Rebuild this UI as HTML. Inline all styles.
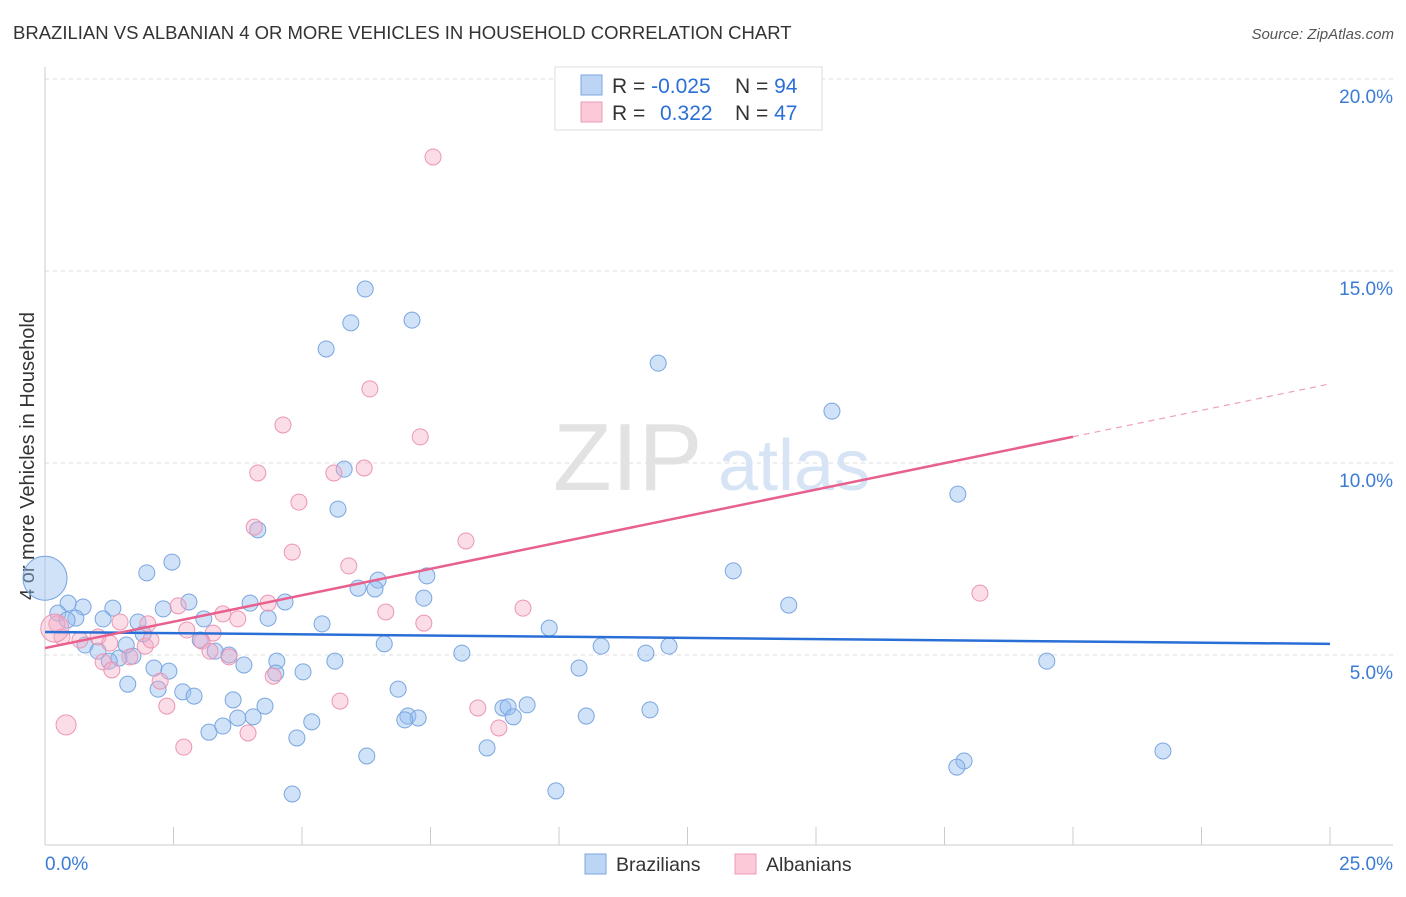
<!DOCTYPE html>
<html><head><meta charset="utf-8"><style>
body{margin:0;background:#fff;font-family:"Liberation Sans",sans-serif;}
svg text{font-family:"Liberation Sans",sans-serif;}
</style></head><body>
<svg id="chart" width="1406" height="892" viewBox="0 0 1406 892">
<text x="13" y="39" font-size="18.5" fill="#333">BRAZILIAN VS ALBANIAN 4 OR MORE VEHICLES IN HOUSEHOLD CORRELATION CHART</text>
<text x="1394" y="39" font-size="15" fill="#555" font-style="italic" text-anchor="end">Source: ZipAtlas.com</text>
<text transform="translate(34,456) rotate(-90)" font-size="20" fill="#333" text-anchor="middle">4 or more Vehicles in Household</text>
<g id="grid"></g>
<g id="ticks"></g>
<text x="553" y="490" font-size="96" fill="#e2e2e2" font-family="Liberation Serif">ZIP</text>
<text x="718" y="490" font-size="72" fill="#d6e4f5">atlas</text>
<g id="marks"></g>
<g>
<rect x="555" y="67" width="267" height="63" fill="#fff" stroke="#ddd"/>
<rect x="581" y="75" width="21" height="20" fill="#bcd5f5" stroke="#7aa6e0"/>
<rect x="581" y="102" width="21" height="20" fill="#fbc9d8" stroke="#ee9ab6"/>
<text x="612" y="93" font-size="21" fill="#333">R = <tspan fill="#2a6fd6">-0.025</tspan></text>
<text x="735" y="93" font-size="21" fill="#333">N = <tspan fill="#2a6fd6">94</tspan></text>
<text x="612" y="120" font-size="21" fill="#333">R = </text>
<text x="660" y="120" font-size="21" fill="#2a6fd6">0.322</text>
<text x="735" y="120" font-size="21" fill="#333">N = <tspan fill="#2a6fd6">47</tspan></text>
</g>
<g>
<rect x="585" y="854" width="21" height="20" fill="#bcd5f5" stroke="#7aa6e0"/>
<text x="616" y="871" font-size="19.5" fill="#333">Brazilians</text>
<rect x="735" y="854" width="21" height="20" fill="#fbc9d8" stroke="#ee9ab6"/>
<text x="766" y="871" font-size="19.5" fill="#333">Albanians</text>
</g>
</svg>
<script>
const yTicks=[5,10,15,20];
const xTickLabels=["0.0%","25.0%"];
const blueX=[6.23,5.95,7.14,5.47,11.93,15.31,17.76,5.82,5.70,4.14,2.47,1.98,13.39,7.43,6.48,6.09,6.42,7.37,3.99,4.67,2.80,2.30,1.32,0.74,0.45,0.25,0.60,1.13,1.81,3.09,4.34,5.39,9.81,14.47,1.91,3.02,3.31,3.58,0.78,1.03,1.44,1.71,1.25,1.58,0.43,6.60,8.11,10.82,11.69,12.14,2.12,2.41,3.87,4.51,4.49,5.02,5.64,19.49,10.39,1.61,2.20,2.68,2.90,3.66,4.28,6.87,8.91,9.01,9.38,9.11,7.06,7.26,7.00,10.53,11.77,3.75,4.05,5.19,3.19,3.46,4.90,8.60,6.26,17.88,17.74,21.75,4.81,9.94,0];
const blueY=[14.53,13.65,13.72,12.97,12.60,11.35,9.19,9.84,8.80,8.26,7.42,7.14,7.19,7.06,6.95,6.74,6.72,6.48,6.35,6.38,6.38,6.20,6.22,6.25,6.35,6.09,5.96,5.94,5.86,5.94,5.96,5.81,5.70,6.30,5.55,5.39,5.10,5.00,5.26,5.10,4.92,4.97,4.84,5.26,5.91,5.29,5.05,5.23,5.05,5.23,4.66,4.58,4.74,4.84,4.53,4.56,4.84,4.84,4.66,4.24,4.11,4.04,3.93,3.83,3.67,4.11,3.62,3.65,3.70,3.39,3.41,3.36,3.31,3.41,3.57,3.36,3.39,3.26,2.99,3.15,2.84,2.58,2.37,2.24,2.08,2.50,1.38,1.46,7.0];
const pinkX=[7.55,6.32,4.63,7.30,4.14,5.62,6.21,4.94,4.07,4.81,8.19,5.91,2.59,4.34,3.46,3.75,6.63,9.30,18.19,7.37,1.46,2.00,0.23,0.33,0.68,1.03,1.26,1.95,2.06,2.76,3.27,3.05,3.21,3.58,1.13,1.30,2.24,4.44,5.74,2.37,8.42,8.83,0.41,2.70,3.95,0.19,1.65];
const pinkY=[17.97,11.93,10.99,10.68,9.74,9.74,9.87,8.98,8.33,7.68,7.97,7.32,6.28,6.35,6.07,5.94,6.12,6.22,6.61,5.83,5.86,5.81,5.81,5.47,5.39,5.47,5.31,5.23,5.39,5.65,5.57,5.36,5.10,4.95,4.82,4.61,4.32,4.45,3.80,3.67,3.62,3.10,3.18,2.60,2.97,5.70,4.95];
const blueTrend=[5.6,5.29];
const pinkTrend=[5.18,12.06];
const X=v=>45+v*51.4, Y=v=>847-v*38.4;
const ns="http://www.w3.org/2000/svg";
function mk(t,a,p){const e=document.createElementNS(ns,t);for(const k in a)e.setAttribute(k,a[k]);p.appendChild(e);return e;}
const grid=document.getElementById('grid'),ticks=document.getElementById('ticks'),marks=document.getElementById('marks');
yTicks.forEach(v=>{
 const l=mk('line',{x1:45,x2:1393,y1:Y(v),y2:Y(v),stroke:'#ddd','stroke-dasharray':'4,4'},grid);
 
 
 const t=mk('text',{x:1393,y:Y(v)+24,'font-size':19,fill:'#3a7bd5','text-anchor':'end'},ticks);
 t.textContent=v.toFixed(1)+'%';
 
 
});
mk('line',{x1:45,x2:45,y1:67,y2:845,stroke:'#ccc'},ticks);
mk('line',{x1:45,x2:1393,y1:845,y2:845,stroke:'#ccc'},ticks);
for(let i=0;i<=10;i++){const x=X(i*2.5);const l=mk('line',{x1:x,x2:x,y1:827,y2:845,stroke:'#ccc'},ticks);
 
 }
const t0=mk('text',{x:45,y:870,'font-size':19,fill:'#3a7bd5'},ticks);t0.textContent=xTickLabels[0];


const t1=mk('text',{x:1393,y:870,'font-size':19,fill:'#3a7bd5','text-anchor':'end'},ticks);t1.textContent=xTickLabels[1];


blueX.forEach((x,i)=>{const c=mk('circle',{cx:X(x),cy:Y(blueY[i]),r:i==blueX.length-1?22:8,fill:'rgba(150,190,240,0.45)',stroke:'#7aa6e0','stroke-width':1},marks);
 
 });
pinkX.forEach((x,i)=>{const r=i==45?14:(i==42?10:8);const c=mk('circle',{cx:X(x),cy:Y(pinkY[i]),r:r,fill:'rgba(245,170,195,0.4)',stroke:'#ec95b3','stroke-width':1},marks);
 
 });
const bl=mk('line',{x1:X(0),y1:Y(blueTrend[0]),x2:X(25),y2:Y(blueTrend[1]),stroke:'#2a6fd6','stroke-width':2.5},marks);


const pv=x=>pinkTrend[0]+(pinkTrend[1]-pinkTrend[0])*x/25;
const pl=mk('line',{x1:X(0),y1:Y(pv(0)),x2:X(20),y2:Y(pv(20)),stroke:'#e8608e','stroke-width':2.5},marks);


const pd=mk('line',{x1:X(20),y1:Y(pv(20)),x2:X(25),y2:Y(pv(25)),stroke:'#eea0bb','stroke-width':1.2,'stroke-dasharray':'6,5'},marks);


</script>
</body></html>
